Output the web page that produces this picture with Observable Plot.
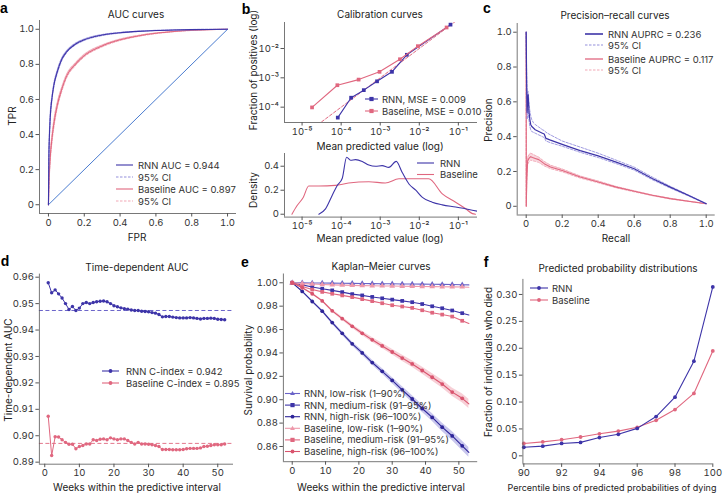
<!DOCTYPE html>
<html><head><meta charset="utf-8">
<script src="https://cdn.jsdelivr.net/npm/d3@7"></script>
<script src="https://cdn.jsdelivr.net/npm/@observablehq/plot@0.6"></script>
<style>
body{margin:0;background:#fff;}
#fig{position:relative;width:723px;height:493px;overflow:hidden;background:#fff;}
</style></head><body><div id="fig"></div>
<script>
// ---------- a: ROC ----------
const rocFpr     = [0, 0.002, 0.005, 0.01, 0.02, 0.03, 0.05, 0.075, 0.1, 0.15, 0.2, 0.3, 0.4, 0.5, 0.6, 0.7, 0.8, 0.9, 1.0];
const rocRnn     = [0, 0.25, 0.38, 0.50, 0.61, 0.68, 0.76, 0.83, 0.87, 0.915, 0.94, 0.967, 0.980, 0.988, 0.993, 0.996, 0.998, 0.999, 1.0];
const rocRnnLo   = [0, 0.23, 0.36, 0.48, 0.60, 0.67, 0.75, 0.822, 0.864, 0.910, 0.936, 0.964, 0.978, 0.987, 0.992, 0.995, 0.997, 0.999, 1.0];
const rocRnnHi   = [0, 0.27, 0.40, 0.52, 0.62, 0.69, 0.77, 0.838, 0.876, 0.920, 0.944, 0.970, 0.982, 0.989, 0.994, 0.997, 0.999, 1.0, 1.0];
const rocBase    = [0, 0.10, 0.18, 0.27, 0.38, 0.46, 0.57, 0.66, 0.73, 0.80, 0.85, 0.905, 0.940, 0.962, 0.977, 0.987, 0.994, 0.998, 1.0];
const rocBaseLo  = [0, 0.09, 0.16, 0.25, 0.36, 0.44, 0.555, 0.648, 0.72, 0.792, 0.843, 0.900, 0.936, 0.959, 0.975, 0.986, 0.993, 0.998, 1.0];
const rocBaseHi  = [0, 0.11, 0.20, 0.29, 0.40, 0.48, 0.585, 0.672, 0.74, 0.808, 0.857, 0.910, 0.944, 0.965, 0.979, 0.988, 0.995, 0.999, 1.0];
const rocDiag    = [0, 1];
const unitTicks  = [0, 0.2, 0.4, 0.6, 0.8, 1.0];

// ---------- b: calibration ----------
const calRnnX  = [8.2e-5, 1.8e-4, 3.8e-4, 8.3e-4, 2.0e-3, 4.8e-3, 6.3e-2];
const calRnnY  = [4.4e-5, 2.1e-4, 3.8e-4, 7.6e-4, 1.6e-3, 6.1e-3, 6.5e-2];
const calBaseX = [1.8e-5, 8.0e-5, 2.8e-4, 9.6e-4, 3.2e-3, 9.2e-3, 5.0e-2];
const calBaseY = [9.8e-5, 5.6e-4, 8.7e-4, 1.6e-3, 4.3e-3, 1.2e-2, 5.2e-2];
const calIdeal = [2.5e-5, 0.09];
const logXTicks = [1e-5, 1e-4, 1e-3, 1e-2, 1e-1];
const logYTicks = [1e-4, 1e-3, 1e-2];
const densRnnX = [2.69e-5, 3.98e-5, 5.89e-5, 7.94e-5, 1.07e-4, 1.38e-4, 1.74e-4, 2.34e-4, 3.47e-4, 5.13e-4, 7.59e-4, 1.12e-3, 1.66e-3, 2.57e-3, 3.63e-3, 5.5e-3, 8.13e-3, 1.2e-2, 2.14e-2, 3.89e-2, 8.51e-2, 0.186, 0.309];
const densRnnY = [0, 0.045, 0.156, 0.24, 0.30, 0.475, 0.45, 0.455, 0.44, 0.41, 0.40, 0.405, 0.39, 0.44, 0.35, 0.25, 0.20, 0.14, 0.10, 0.078, 0.06, 0.04, 0.025];
const densBaseX = [5.5e-6, 7.4e-6, 1.07e-5, 1.48e-5, 2.69e-5, 7.08e-5, 1.55e-4, 5.13e-4, 1.35e-3, 3.02e-3, 9.77e-3, 1.74e-2, 3.89e-2, 8.51e-2, 0.155, 0.229, 0.275];
const densBaseY = [0, 0.07, 0.14, 0.235, 0.235, 0.24, 0.26, 0.27, 0.26, 0.295, 0.295, 0.295, 0.17, 0.10, 0.045, 0.005, 0];
const densTicks = [0, 0.2, 0.4];

// ---------- c: precision-recall ----------
const prRecallRnn = [0, 0.002, 0.005, 0.008, 0.011, 0.015, 0.02, 0.025, 0.03, 0.04, 0.05, 0.07, 0.09, 0.1, 0.11, 0.135, 0.2, 0.3, 0.4, 0.5, 0.6, 0.7, 0.8, 0.9, 1.0];
const prRnn   = [1.0, 0.75, 0.54, 0.60, 0.64, 0.55, 0.50, 0.47, 0.46, 0.45, 0.44, 0.43, 0.42, 0.415, 0.39, 0.38, 0.356, 0.32, 0.29, 0.254, 0.216, 0.16, 0.11, 0.063, 0.015];
const prRnnHi = [1.0, 0.80, 0.62, 0.66, 0.66, 0.60, 0.55, 0.52, 0.50, 0.48, 0.47, 0.455, 0.44, 0.435, 0.425, 0.41, 0.375, 0.34, 0.305, 0.265, 0.225, 0.168, 0.115, 0.066, 0.016];
const prRnnLo = [1.0, 0.70, 0.50, 0.53, 0.56, 0.50, 0.46, 0.44, 0.43, 0.425, 0.42, 0.41, 0.40, 0.395, 0.375, 0.365, 0.345, 0.31, 0.28, 0.245, 0.208, 0.153, 0.105, 0.06, 0.014];
const prRecallBase = [0, 0.0005, 0.003, 0.008, 0.015, 0.025, 0.035, 0.05, 0.07, 0.1, 0.135, 0.2, 0.3, 0.4, 0.5, 0.6, 0.7, 0.8, 0.9, 1.0];
const prBase   = [1.0, 0.0, 0.15, 0.26, 0.275, 0.285, 0.28, 0.275, 0.268, 0.245, 0.226, 0.206, 0.168, 0.14, 0.11, 0.086, 0.063, 0.044, 0.029, 0.015];
const prBaseHi = [1.0, 0.0, 0.17, 0.28, 0.295, 0.305, 0.30, 0.292, 0.282, 0.258, 0.236, 0.214, 0.174, 0.145, 0.114, 0.089, 0.065, 0.046, 0.030, 0.016];
const prBaseLo = [1.0, 0.0, 0.13, 0.24, 0.255, 0.265, 0.262, 0.258, 0.252, 0.232, 0.216, 0.198, 0.162, 0.135, 0.106, 0.083, 0.061, 0.042, 0.028, 0.014];

// ---------- d: time-dependent AUC ----------
const tdWeeks = [1,2,3,4,5,6,7,8,9,10,11,12,13,14,15,16,17,18,19,20,21,22,23,24,25,26,27,28,29,30,31,32,33,34,35,36,37,38,39,40,41,42,43,44,45,46,47,48,49,50,51,52];
const tdRnn = [0.9579,0.9541,0.9552,0.9537,0.9521,0.9500,0.9478,0.9489,0.9474,0.9483,0.9500,0.9504,0.9500,0.9504,0.9507,0.9509,0.9510,0.9507,0.9500,0.9492,0.9488,0.9484,0.9481,0.9479,0.9476,0.9474,0.9474,0.9471,0.9470,0.9469,0.9466,0.9464,0.9459,0.9450,0.9451,0.9451,0.9449,0.9447,0.9446,0.9446,0.9446,0.9447,0.9446,0.9444,0.9442,0.9444,0.9444,0.9445,0.9444,0.9441,0.9440,0.9439];
const tdBase = [0.9074,0.8925,0.8996,0.8995,0.8985,0.8975,0.8968,0.8968,0.8951,0.8959,0.8963,0.8969,0.8969,0.8985,0.8982,0.8987,0.8988,0.8985,0.8992,0.8988,0.8985,0.8988,0.8988,0.8982,0.8975,0.8969,0.8975,0.8969,0.8969,0.8968,0.8966,0.8963,0.8959,0.8948,0.8948,0.8948,0.8947,0.8947,0.8947,0.8948,0.8951,0.8952,0.8952,0.8952,0.8954,0.8959,0.8960,0.8963,0.8966,0.8966,0.8966,0.8969];
const tdRnnRef = 0.9474, tdBaseRef = 0.8971;
const tdYTicks = [0.89, 0.90, 0.91, 0.92, 0.93, 0.94, 0.95, 0.96];
const weekTicks = [0, 10, 20, 30, 40, 50];

// ---------- e: Kaplan-Meier ----------
const kmWeeks   = [0,3,6,9,12,15,18,21,24,27,30,33,36,39,42,45,48,51,53];
const kmRnnLow  = [1.0,0.9999,0.9998,0.9998,0.9997,0.9996,0.9995,0.9994,0.9993,0.9992,0.9991,0.9990,0.9989,0.9988,0.9987,0.9986,0.9985,0.9983,0.9982];
const kmRnnMed  = [1.0,0.9982,0.9964,0.9949,0.9935,0.9920,0.9903,0.9892,0.9879,0.9867,0.9856,0.9845,0.9834,0.9818,0.9799,0.9782,0.9763,0.9740,0.9724];
const kmRnnHigh = [1.0,0.9926,0.9840,0.9757,0.9660,0.9568,0.9478,0.9400,0.9318,0.9243,0.9165,0.9085,0.9006,0.8925,0.8849,0.8765,0.8690,0.8606,0.8550];
const kmRnnHighLo = [1.0,0.9918,0.9830,0.9745,0.9646,0.9552,0.9460,0.9380,0.9296,0.9219,0.9139,0.9057,0.8976,0.8893,0.8815,0.8729,0.8652,0.8566,0.8508];
const kmRnnHighHi = [1.0,0.9934,0.9850,0.9769,0.9674,0.9584,0.9496,0.9420,0.9340,0.9267,0.9191,0.9113,0.9036,0.8957,0.8883,0.8801,0.8728,0.8646,0.8592];
const kmBaseLow  = [1.0,0.9993,0.9989,0.9985,0.9982,0.9980,0.9978,0.9976,0.9974,0.9973,0.9972,0.9970,0.9969,0.9968,0.9967,0.9966,0.9965,0.9964,0.9962];
const kmBaseMed  = [1.0,0.9968,0.9942,0.9922,0.9906,0.9892,0.9877,0.9860,0.9843,0.9825,0.9808,0.9797,0.9785,0.9765,0.9744,0.9728,0.9711,0.9675,0.9652];
const kmBaseHigh = [1.0,0.9957,0.9906,0.9845,0.9760,0.9693,0.9628,0.9568,0.9512,0.9460,0.9408,0.9356,0.9306,0.9250,0.9192,0.9134,0.9065,0.9012,0.8965];
const kmBaseHighLo = [1.0,0.9951,0.9898,0.9835,0.9748,0.9679,0.9612,0.9550,0.9492,0.9438,0.9384,0.9330,0.9278,0.9220,0.9160,0.9100,0.9029,0.8974,0.8925];
const kmBaseHighHi = [1.0,0.9963,0.9914,0.9855,0.9772,0.9707,0.9644,0.9586,0.9532,0.9482,0.9432,0.9382,0.9334,0.9280,0.9224,0.9168,0.9101,0.9050,0.9005];
const kmYTicks = [0.86, 0.88, 0.90, 0.92, 0.94, 0.96, 0.98, 1.00];
const kmLabels = ["RNN, low-risk (1–90%)","RNN, medium-risk (91–95%)","RNN, high-risk (96–100%)","Baseline, low-risk (1–90%)","Baseline, medium-risk (91–95%)","Baseline, high-risk (96–100%)"];

// ---------- f: predicted probability distributions ----------
const pctBins = [90,91,92,93,94,95,96,97,98,99,100];
const fracRnn  = [0.016,0.018,0.023,0.025,0.034,0.040,0.051,0.073,0.109,0.176,0.314];
const fracBase = [0.023,0.026,0.030,0.035,0.041,0.046,0.053,0.066,0.086,0.116,0.195];
const pctTicks = [90,92,94,96,98,100];
const fracTicks = [0,0.05,0.10,0.15,0.20,0.25,0.30];

// ---------- styling ----------
const RNN = "#3d34a8", RNN_CI = "#948fdc", BASE = "#e0677f", BASE_CI = "#f1a7b5", DIAG = "#4a7cd0";
const RNN_LOW = "#6a63c8", RNN_HIGH = "#2e2599", BASE_LOW = "#ee98aa", BASE_HIGH = "#d9546e";
const FONT = "Inter, 'Open Sans', sans-serif";
const STYLE = {fontFamily: FONT, fontSize: "9.5px", color: "#333", background: "transparent", overflow: "visible"};
const SPINE = {stroke: "#555", strokeWidth: 0.8};
const fig = document.getElementById("fig");

const f1 = d => d === 0 ? "0" : d.toFixed(1);
const f2 = d => d === 0 ? "0" : d.toFixed(2);
const supMap = {"-":"⁻","0":"⁰","1":"¹","2":"²","3":"³","4":"⁴","5":"⁵","6":"⁶","7":"⁷","8":"⁸","9":"⁹"};
const fLog = d => "10" + String(Math.round(Math.log10(d))).split("").map(c => supMap[c]).join("");
function axes(xt, xf, yt, yf) {
  return [
    Plot.axisX({ticks: xt, tickFormat: xf, tickSize: 3.5, tickPadding: 2, label: null, stroke: "#555"}),
    Plot.axisY({ticks: yt, tickFormat: yf, tickSize: 3.5, tickPadding: 2, label: null, stroke: "#555"})
  ];
}
function place(svg, left, top) {
  svg.style.position = "absolute"; svg.style.left = left + "px"; svg.style.top = top + "px";
  svg.style.maxWidth = "none";
  fig.appendChild(svg);
}
const idx = a => a.map((_, i) => i);

// ---------- a ----------
const xa = [-0.05, 1.05], ya = [-0.05, 1.05];
place(Plot.plot({
  width: 240, height: 250, marginLeft: 39, marginRight: 4, marginTop: 20, marginBottom: 37,
  x: {domain: xa}, y: {domain: ya}, style: STYLE,
  marks: [
    Plot.line(d3.zip(rocDiag, rocDiag), {stroke: DIAG, strokeWidth: 1}),
    Plot.areaY(idx(rocFpr), {x: i => rocFpr[i], y1: i => rocBaseLo[i], y2: i => rocBaseHi[i], fill: BASE_CI, fillOpacity: 0.5, curve: "monotone-x"}),
    Plot.areaY(idx(rocFpr), {x: i => rocFpr[i], y1: i => rocRnnLo[i], y2: i => rocRnnHi[i], fill: RNN_CI, fillOpacity: 0.4, curve: "monotone-x"}),
    Plot.line(d3.zip(rocFpr, rocBaseLo), {stroke: BASE_CI, strokeWidth: 1, strokeDasharray: "2.5,1.5", curve: "monotone-x"}),
    Plot.line(d3.zip(rocFpr, rocBaseHi), {stroke: BASE_CI, strokeWidth: 1, strokeDasharray: "2.5,1.5", curve: "monotone-x"}),
    Plot.line(d3.zip(rocFpr, rocBase), {stroke: BASE, strokeWidth: 1.1, curve: "monotone-x"}),
    Plot.line(d3.zip(rocFpr, rocRnnLo), {stroke: RNN_CI, strokeWidth: 0.9, strokeDasharray: "2.5,1.5", curve: "monotone-x"}),
    Plot.line(d3.zip(rocFpr, rocRnnHi), {stroke: RNN_CI, strokeWidth: 0.9, strokeDasharray: "2.5,1.5", curve: "monotone-x"}),
    Plot.line(d3.zip(rocFpr, rocRnn), {stroke: RNN, strokeWidth: 1.1, curve: "monotone-x"}),
    Plot.ruleX([xa[0]], SPINE), Plot.ruleY([ya[0]], SPINE),
    ...axes(unitTicks, f1, unitTicks, f1)
  ]
}), 0, 0);

// ---------- b top ----------
const xb = [3.55e-6, 0.309];
place(Plot.plot({
  width: 240, height: 150, marginLeft: 44, marginRight: 3, marginTop: 22, marginBottom: 28,
  x: {type: "log", domain: xb}, y: {type: "log", domain: [3.0e-5, 0.0769]}, style: STYLE,
  marks: [
    Plot.line(d3.zip(calIdeal, calIdeal), {stroke: BASE, strokeWidth: 1, strokeDasharray: "3,2", clip: true}),
    Plot.line(d3.zip(calRnnX, calRnnY), {stroke: RNN, strokeWidth: 1.1}),
    Plot.dot(d3.zip(calRnnX, calRnnY), {symbol: "square", r: 2.1, fill: RNN}),
    Plot.line(d3.zip(calBaseX, calBaseY), {stroke: BASE, strokeWidth: 1.1}),
    Plot.dot(d3.zip(calBaseX, calBaseY), {symbol: "square", r: 2.1, fill: BASE}),
    Plot.ruleX([xb[0]], SPINE), Plot.ruleY([3.0e-5], SPINE),
    ...axes(logXTicks, fLog, logYTicks, fLog)
  ]
}), 240, 0);

// ---------- b bottom ----------
const yd = [-0.024, 0.506];
place(Plot.plot({
  width: 240, height: 100, marginLeft: 44, marginRight: 3, marginTop: 8, marginBottom: 28.4,
  x: {type: "log", domain: xb}, y: {domain: yd}, style: STYLE,
  marks: [
    Plot.line(d3.zip(densBaseX, densBaseY), {stroke: BASE, strokeWidth: 1.1, curve: "monotone-x", clip: true}),
    Plot.line(d3.zip(densRnnX, densRnnY), {stroke: RNN, strokeWidth: 1.1, curve: "monotone-x", clip: true}),
    Plot.ruleX([xb[0]], SPINE), Plot.ruleY([yd[0]], SPINE),
    ...axes(logXTicks, fLog, densTicks, f1)
  ]
}), 240, 145);

// ---------- c ----------
place(Plot.plot({
  width: 243, height: 250, marginLeft: 36.7, marginRight: 8.3, marginTop: 23, marginBottom: 35.5,
  x: {domain: xa}, y: {domain: ya}, style: STYLE,
  marks: [
    Plot.areaY(idx(prRecallBase), {x: i => prRecallBase[i], y1: i => prBaseLo[i], y2: i => prBaseHi[i], fill: BASE_CI, fillOpacity: 0.45}),
    Plot.line(d3.zip(prRecallBase, prBaseLo), {stroke: BASE_CI, strokeWidth: 0.9, strokeDasharray: "2.5,1.5"}),
    Plot.line(d3.zip(prRecallBase, prBaseHi), {stroke: BASE_CI, strokeWidth: 0.9, strokeDasharray: "2.5,1.5"}),
    Plot.line(d3.zip(prRecallBase, prBase), {stroke: BASE, strokeWidth: 1.1}),
    Plot.line(d3.zip(prRecallRnn, prRnnLo), {stroke: RNN_CI, strokeWidth: 0.9, strokeDasharray: "2.5,1.5"}),
    Plot.line(d3.zip(prRecallRnn, prRnnHi), {stroke: RNN_CI, strokeWidth: 0.9, strokeDasharray: "2.5,1.5"}),
    Plot.line(d3.zip(prRecallRnn, prRnn), {stroke: RNN, strokeWidth: 1.2}),
    Plot.ruleX([xa[0]], SPINE), Plot.ruleY([ya[0]], SPINE),
    ...axes(unitTicks, f1, unitTicks, f1)
  ]
}), 480, 0);

// ---------- d ----------
const xdd = [-1.55, 54.55], ydd = [0.88923, 0.96117];
place(Plot.plot({
  width: 240, height: 243, marginLeft: 38.9, marginRight: 7, marginTop: 23.6, marginBottom: 29.3,
  x: {domain: xdd}, y: {domain: ydd}, style: STYLE,
  marks: [
    Plot.ruleY([tdRnnRef], {stroke: "#5a52c4", strokeWidth: 0.9, strokeDasharray: "4,2.5"}),
    Plot.ruleY([tdBaseRef], {stroke: BASE, strokeWidth: 0.9, strokeDasharray: "4,2.5"}),
    Plot.line(d3.zip(tdWeeks, tdRnn), {stroke: RNN, strokeWidth: 1}),
    Plot.dot(d3.zip(tdWeeks, tdRnn), {r: 1.7, fill: RNN}),
    Plot.line(d3.zip(tdWeeks, tdBase), {stroke: BASE, strokeWidth: 1}),
    Plot.dot(d3.zip(tdWeeks, tdBase), {r: 1.7, fill: BASE}),
    Plot.ruleX([xdd[0]], SPINE), Plot.ruleY([ydd[0]], SPINE),
    ...axes(weekTicks, d => String(d), tdYTicks, f2)
  ]
}), 0, 250);

// ---------- e ----------
const xe = [-2.65, 55.65], ye = [0.847, 1.0075];
const kmSeries = [
  {y: kmRnnLow, c: RNN_LOW, s: "triangle"}, {y: kmRnnMed, c: RNN, s: "square"}, {y: kmRnnHigh, c: RNN_HIGH, s: "circle"},
  {y: kmBaseLow, c: BASE_LOW, s: "triangle"}, {y: kmBaseMed, c: BASE, s: "square"}, {y: kmBaseHigh, c: BASE_HIGH, s: "circle"}
];
const kmMarks = [];
for (const k of kmSeries) {
  kmMarks.push(Plot.line(d3.zip(kmWeeks, k.y), {stroke: k.c, strokeWidth: 1.1}));
  kmMarks.push(Plot.dot(d3.zip(kmWeeks.slice(0, -1), k.y.slice(0, -1)), {symbol: k.s, r: k.s === "circle" ? 1.9 : 2.1, fill: k.c}));
}
place(Plot.plot({
  width: 240, height: 243, marginLeft: 42.9, marginRight: 2.8, marginTop: 23.5, marginBottom: 31.8,
  x: {domain: xe}, y: {domain: ye}, style: STYLE,
  marks: [
    Plot.areaY(idx(kmWeeks), {x: i => kmWeeks[i], y1: i => kmBaseHighLo[i], y2: i => kmBaseHighHi[i], fill: BASE_CI, fillOpacity: 0.55}),
    Plot.areaY(idx(kmWeeks), {x: i => kmWeeks[i], y1: i => kmRnnHighLo[i], y2: i => kmRnnHighHi[i], fill: RNN_CI, fillOpacity: 0.5}),
    ...kmMarks,
    Plot.ruleX([xe[0]], SPINE), Plot.ruleY([ye[0]], SPINE),
    ...axes(weekTicks, d => String(d), kmYTicks, f2)
  ]
}), 240, 250);

// ---------- f ----------
const xf = [89.95, 100], yf = [-0.015, 0.328];
place(Plot.plot({
  width: 243, height: 243, marginLeft: 42.4, marginRight: 10.7, marginTop: 28.9, marginBottom: 29.6,
  x: {domain: xf}, y: {domain: yf}, style: STYLE,
  marks: [
    Plot.line(d3.zip(pctBins, fracBase), {stroke: BASE, strokeWidth: 1.1}),
    Plot.dot(d3.zip(pctBins, fracBase), {r: 1.9, fill: BASE}),
    Plot.line(d3.zip(pctBins, fracRnn), {stroke: RNN, strokeWidth: 1.1}),
    Plot.dot(d3.zip(pctBins, fracRnn), {r: 1.9, fill: RNN}),
    Plot.ruleX([xf[0]], SPINE), Plot.ruleY([yf[0]], SPINE),
    ...axes(pctTicks, d => String(d), fracTicks, f2)
  ]
}), 480, 250);

// ---------- overlay: panel letters, titles, axis labels, legends ----------
const ov = d3.create("svg").attr("width", 723).attr("height", 493)
  .style("position", "absolute").style("left", "0px").style("top", "0px").style("font-family", FONT);
function text(x, y, s, size, opt = {}) {
  const t = ov.append("text").attr("x", x).attr("y", y).attr("font-size", size).attr("fill", opt.fill || "#222")
    .attr("text-anchor", opt.anchor || "middle").attr("dominant-baseline", "central").text(s);
  if (opt.rotate) t.attr("transform", `rotate(-90,${x},${y})`);
  if (opt.bold) t.attr("font-weight", "bold").attr("font-family", "'Liberation Sans', Arial, sans-serif");
  return t;
}
// panel letters
[["a", 4, 8], ["b", 246, 9], ["c", 487, 8], ["d", 5, 261], ["e", 245, 262], ["f", 486, 262]]
  .forEach(([s, x, y]) => text(x, y, s, 14, {bold: true, fill: "#000"}));
// titles
text(136, 13.5, "AUC curves", 10);
text(380, 13.5, "Calibration curves", 10);
text(615, 15, "Precision–recall curves", 10);
text(137, 267, "Time-dependent AUC", 10);
text(381, 266, "Kaplan–Meier curves", 10);
text(618, 268, "Predicted probability distributions", 10);
// axis labels
text(137, 237, "FPR", 10);
text(12, 116, "TPR", 10, {rotate: true});
text(380, 146, "Mean predicted value (log)", 10);
text(253, 70, "Fraction of positives (log)", 10, {rotate: true});
text(380, 238, "Mean predicted value (log)", 10);
text(253, 190, "Density", 10, {rotate: true});
text(616, 238, "Recall", 10);
text(488, 120, "Precision", 10, {rotate: true});
text(137, 487, "Weeks within the predictive interval", 10);
text(8, 370, "Time-dependent AUC", 10, {rotate: true});
text(381, 487, "Weeks within the predictive interval", 10);
text(248, 370, "Survival probability", 10, {rotate: true});
text(612, 487, "Percentile bins of predicted probabilities of dying", 9);
text(488, 362, "Fraction of individuals who died", 10, {rotate: true});

function marker(x, y, s, c) {
  if (s === "square") ov.append("rect").attr("x", x - 2.1).attr("y", y - 2.1).attr("width", 4.2).attr("height", 4.2).attr("fill", c);
  else if (s === "circle") ov.append("circle").attr("cx", x).attr("cy", y).attr("r", 1.9).attr("fill", c);
  else if (s === "triangle") ov.append("path").attr("d", `M${x},${y - 2.6}L${x + 2.4},${y + 1.6}L${x - 2.4},${y + 1.6}Z`).attr("fill", c);
}
function legend(x1, x2, tx, entries, size = 9.5) {
  for (const e of entries) {
    ov.append("line").attr("x1", x1).attr("x2", x2).attr("y1", e.y).attr("y2", e.y)
      .attr("stroke", e.c).attr("stroke-width", e.w || 1.1).attr("stroke-dasharray", e.dash || null);
    if (e.m) marker((x1 + x2) / 2, e.y, e.m, e.c);
    text(tx, e.y, e.t, size, {anchor: "start", fill: "#333"});
  }
}
legend(116, 133, 138, [
  {y: 165, c: RNN, t: "RNN AUC = 0.944"},
  {y: 177, c: RNN_CI, t: "95% CI", dash: "2.5,1.5"},
  {y: 189, c: BASE, t: "Baseline AUC = 0.897"},
  {y: 201, c: BASE_CI, t: "95% CI", dash: "2.5,1.5"}
]);
legend(365, 378, 382, [
  {y: 99, c: RNN, t: "RNN, MSE = 0.009", m: "square"},
  {y: 111, c: BASE, t: "Baseline, MSE = 0.010", m: "square"}
]);
legend(417, 434, 440, [
  {y: 163, c: RNN, t: "RNN"},
  {y: 174.5, c: BASE, t: "Baseline"}
]);
legend(585, 603, 608, [
  {y: 34, c: RNN, t: "RNN AUPRC = 0.236", w: 1.6},
  {y: 45, c: RNN_CI, t: "95% CI", dash: "2.5,1.5"},
  {y: 59, c: BASE, t: "Baseline AUPRC = 0.117", w: 1.3},
  {y: 70, c: BASE_CI, t: "95% CI", dash: "2.5,1.5"}
]);
legend(102, 119, 126, [
  {y: 371, c: RNN, t: "RNN C-index = 0.942", m: "circle"},
  {y: 383, c: BASE, t: "Baseline C-index = 0.895", m: "circle"}
]);
legend(285, 300, 304, kmSeries.map((k, i) => ({y: 393.5 + i * 11.6, c: k.c, t: kmLabels[i], m: k.s})));
legend(530, 548, 552, [
  {y: 288, c: RNN, t: "RNN", m: "circle"},
  {y: 300, c: BASE, t: "Baseline", m: "circle"}
]);
fig.appendChild(ov.node());
</script></body></html>
